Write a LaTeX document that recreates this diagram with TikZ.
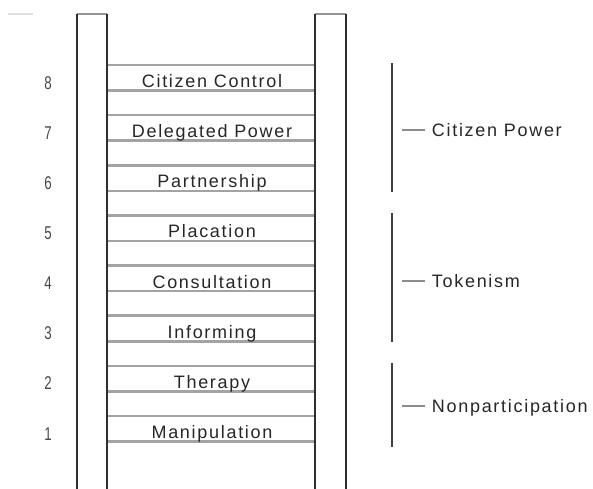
\documentclass[tikz,border=0pt]{standalone}
\usepackage{fontspec}
\setmainfont{Liberation Sans}
\newfontfamily\rungfont[LetterSpace=9.5]{Liberation Sans}
\begin{document}
\begin{tikzpicture}[x=1pt,y=-1pt,
  rail/.style={draw=black!82, line width=1.6pt},
  railcap/.style={draw=black!42, line width=2.4pt},
  rungline/.style={draw=black!36, line width=2.6pt},
  rungtext/.style={anchor=base, inner sep=0pt, text=black!85,
    font=\rungfont\fontsize{18}{21}\selectfont},
  numtext/.style={anchor=base, inner sep=0pt, text=black!72,
    font=\fontsize{18.5}{21}\selectfont},
  grouptext/.style={anchor=base west, inner sep=0pt, text=black!85,
    font=\rungfont\fontsize{18}{21}\selectfont},
  bracket/.style={draw=black!75, line width=1.4pt},
  tick/.style={draw=black!45, line width=2pt},
  stub/.style={draw=black!12, line width=2.2pt}
]
\useasboundingbox (0,0) rectangle (593,488);

% short stub at the top left
\coordinate (stubA) at (8,14);
\coordinate (stubB) at (33,14);
\draw[stub] (stubA) -- (stubB);

% rungs, labels and level numbers
\foreach \k/\t in {1/Manipulation,2/Therapy,3/Informing,4/Consultation,
                   5/Placation,6/Partnership,7/Delegated Power,8/Citizen Control}{
  \pgfmathsetmacro\rtop{416-50.14*(\k-1)}
  \draw[rungline] (107,\rtop) -- (315,\rtop);
  \draw[rungline] (107,{\rtop+25.5}) -- (315,{\rtop+25.5});
  \node[rungtext] (rung\k) at (212,{\rtop+22.5}) {\t};
  \node[numtext] (num\k) at (48,{\rtop+24}) {\scalebox{0.72}[1]{\k}};
}

% the two rails with their caps
\coordinate (lrA) at (77,14);  \coordinate (lrB) at (107,14);
\coordinate (rrA) at (315,14); \coordinate (rrB) at (346,14);
\draw[railcap] (lrA) -- (lrB);
\draw[railcap] (rrA) -- (rrB);
\draw[rail] (lrA) -- (77,489);
\draw[rail] (lrB) -- (107,489);
\draw[rail] (rrA) -- (315,489);
\draw[rail] (rrB) -- (346,489);

% groups of levels
\coordinate (powTop) at (392,63);  \coordinate (powBot) at (392,192);
\coordinate (tokTop) at (392,213); \coordinate (tokBot) at (392,342);
\coordinate (nonTop) at (392,363); \coordinate (nonBot) at (392,447);
\draw[bracket] (powTop) -- (powBot);
\draw[bracket] (tokTop) -- (tokBot);
\draw[bracket] (nonTop) -- (nonBot);

\node[grouptext] (power) at (431.7,136.5) {Citizen Power};
\node[grouptext] (token) at (431.7,287) {Tokenism};
\node[grouptext] (nonpart) at (431.7,412.5) {Nonparticipation};

\coordinate (powTickA) at (402,130); \coordinate (powTickB) at (425,130);
\coordinate (tokTickA) at (402,281); \coordinate (tokTickB) at (425,281);
\coordinate (nonTickA) at (402,406); \coordinate (nonTickB) at (425,406);
\draw[tick] (powTickA) -- (powTickB);
\draw[tick] (tokTickA) -- (tokTickB);
\draw[tick] (nonTickA) -- (nonTickB);
\end{tikzpicture}
\end{document}
